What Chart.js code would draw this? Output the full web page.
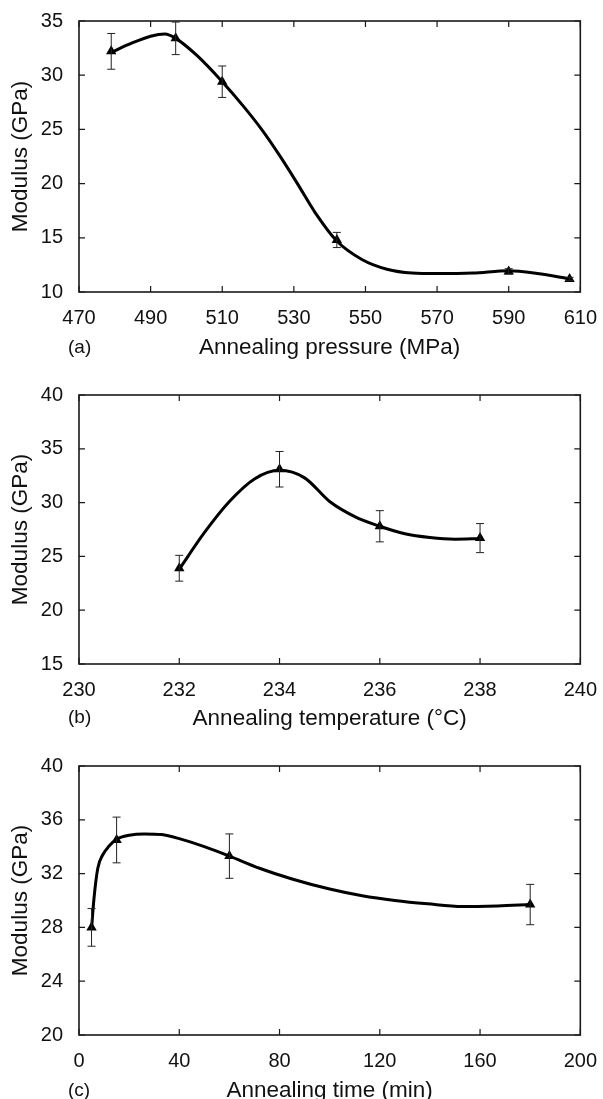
<!DOCTYPE html>
<html>
<head>
<meta charset="utf-8">
<script src="https://cdn.jsdelivr.net/npm/chart.js@4"></script>
<style>
  html, body { margin: 0; padding: 0; background: #fff; }
  body { width: 603px; height: 1099px; overflow: hidden; position: relative; font-family: "Liberation Sans", Arial, sans-serif; }
  .panel { position: absolute; left: 0; width: 603px; }
  .tag { position: absolute; left: 68px; font-size: 19px; color: #111; line-height: 20px; }
</style>
</head>
<body>
<div class="panel" style="top:0;height:366px"><canvas id="chartA"></canvas></div>
<div class="panel" style="top:366px;height:371px"><canvas id="chartB"></canvas></div>
<div class="panel" style="top:737px;height:368px"><canvas id="chartC"></canvas></div>
<div class="tag" style="top:337px">(a)</div>
<div class="tag" style="top:707px">(b)</div>
<div class="tag" style="top:1080px">(c)</div>

<script>
// (a) annealing pressure - measured points
const pressure = [479, 497, 510, 542, 590, 607];
const modulusA = [32.2, 33.4, 29.4, 14.8, 11.9, 11.2];
const errA = [1.65, 1.5, 1.45, 0.7, 0.25, 0.15];
// drawn fit curve
const curveAx = [479, 485, 490, 494, 497, 503, 510, 516, 521, 526, 531, 536, 542, 549, 556, 563, 570, 580, 590, 598, 607];
const curveAy = [32.1, 33.0, 33.6, 33.8, 33.4, 31.8, 29.4, 27.1, 25.0, 22.6, 20.0, 17.3, 14.7, 13.0, 12.1, 11.75, 11.7, 11.75, 11.95, 11.7, 11.2];

// (b) annealing temperature
const temperature = [232, 234, 236, 238];
const modulusB = [23.9, 33.1, 27.8, 26.7];
const errB = [1.2, 1.65, 1.45, 1.35];
const curveBx = [232, 232.5, 233, 233.5, 234, 234.5, 235, 235.5, 236, 236.5, 237, 237.5, 238];
const curveBy = [23.8, 27.2, 30.1, 32.2, 33.0, 32.3, 30.1, 28.7, 27.8, 27.1, 26.75, 26.6, 26.65];

// (c) annealing time
const time = [5, 15, 60, 180];
const modulusC = [28.0, 34.5, 33.3, 29.7];
const errC = [1.4, 1.7, 1.65, 1.5];
const curveCx = [5, 6, 7.5, 9.5, 12, 15, 20, 26, 33, 40, 50, 60, 72, 85, 100, 113, 126, 139, 153, 167, 180];
const curveCy = [27.9, 30.2, 32.4, 33.4, 34.05, 34.55, 34.85, 34.95, 34.9, 34.6, 34.0, 33.3, 32.4, 31.6, 30.85, 30.35, 30.0, 29.75, 29.55, 29.6, 29.7];

const tickFont = { family: "Liberation Sans", size: 20 };
const titleFont = { family: "Liberation Sans", size: 22.5 };

const toPoints = (xs, ys) => xs.map((x, i) => ({ x: x, y: ys[i] }));

// box + inward ticks on all four sides, then error bars
const frame = {
  id: "frame",
  afterDatasetsDraw: (chart) => {
    const { ctx, chartArea: a, scales } = chart;
    ctx.save();
    ctx.strokeStyle = "#1a1a1a";
    ctx.lineWidth = 1.2;
    ctx.beginPath();
    scales.x.ticks.forEach((t) => {
      const px = scales.x.getPixelForValue(t.value);
      ctx.moveTo(px, a.bottom);
      ctx.lineTo(px, a.bottom - 6);
      ctx.moveTo(px, a.top);
      ctx.lineTo(px, a.top + 6);
    });
    scales.y.ticks.forEach((t) => {
      const py = scales.y.getPixelForValue(t.value);
      ctx.moveTo(a.left, py);
      ctx.lineTo(a.left + 6, py);
      ctx.moveTo(a.right, py);
      ctx.lineTo(a.right - 6, py);
    });
    ctx.stroke();
    ctx.lineWidth = 1.6;
    ctx.strokeRect(a.left, a.top, a.right - a.left, a.bottom - a.top);

    const errs = chart.options.plugins.frame.errors;
    const data = chart.data.datasets[1].data;
    ctx.lineWidth = 1;
    ctx.strokeStyle = "#222";
    ctx.beginPath();
    data.forEach((d, i) => {
      const px = scales.x.getPixelForValue(d.x);
      const hi = scales.y.getPixelForValue(d.y + errs[i]);
      const lo = scales.y.getPixelForValue(d.y - errs[i]);
      ctx.moveTo(px, hi);
      ctx.lineTo(px, lo);
      ctx.moveTo(px - 4, hi);
      ctx.lineTo(px + 4, hi);
      ctx.moveTo(px - 4, lo);
      ctx.lineTo(px + 4, lo);
    });
    ctx.stroke();
    ctx.restore();
  },
};

const drawChart = (id, curve, points, errs, xRange, yRange, xTitle, topPad, xHeight, xTitlePad) => {
  return new Chart(document.querySelector(id), {
    type: "line",
    data: {
      datasets: [
        {
          data: curve,
          borderColor: "#000",
          borderWidth: 3,
          cubicInterpolationMode: "monotone",
          pointRadius: 0,
        },
        {
          data: points,
          showLine: false,
          pointStyle: "triangle",
          pointRadius: 6,
          pointBackgroundColor: "#000",
          pointBorderColor: "#000",
          pointBorderWidth: 0,
        },
      ],
    },
    options: {
      responsive: true,
      maintainAspectRatio: false,
      animation: false,
      layout: { padding: { top: topPad, right: 19, left: 0, bottom: 0 } },
      plugins: {
        legend: { display: false },
        tooltip: { enabled: false },
        frame: { errors: errs },
      },
      scales: {
        x: {
          type: "linear",
          min: xRange[0],
          max: xRange[1],
          grid: { display: false },
          border: { display: false },
          ticks: { stepSize: xRange[2], padding: 6, color: "#111", font: tickFont, maxRotation: 0 },
          title: { display: true, text: xTitle, color: "#111", font: titleFont, padding: { top: 0, bottom: xTitlePad } },
          afterFit: (scale) => { scale.height = xHeight; },
        },
        y: {
          min: yRange[0],
          max: yRange[1],
          grid: { display: false },
          border: { display: false },
          ticks: { stepSize: yRange[2], padding: 8, color: "#111", font: tickFont },
          title: { display: true, text: "Modulus (GPa)", color: "#111", font: titleFont, padding: { top: 7, bottom: 0 } },
          afterFit: (scale) => { scale.width = 79; },
        },
      },
    },
    plugins: [frame],
  });
};

drawChart("#chartA", toPoints(curveAx, curveAy), toPoints(pressure, modulusA), errA, [470, 610, 20], [10, 35, 5], "Annealing pressure (MPa)", 21, 74, 5);
drawChart("#chartB", toPoints(curveBx, curveBy), toPoints(temperature, modulusB), errB, [230, 240, 2], [15, 40, 5], "Annealing temperature (\u00B0C)", 29, 73, 5);
drawChart("#chartC", toPoints(curveCx, curveCy), toPoints(time, modulusC), errC, [0, 200, 40], [20, 40, 4], "Annealing time (min)", 29, 70, 1);
</script>
</body>
</html>
